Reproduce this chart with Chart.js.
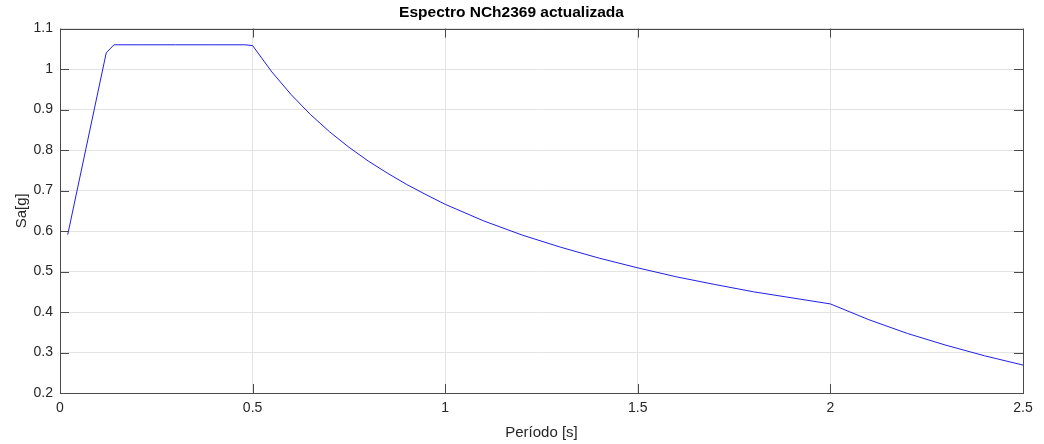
<!DOCTYPE html>
<html>
<head>
<meta charset="utf-8">
<script src="https://cdn.jsdelivr.net/npm/chart.js@4/dist/chart.umd.min.js"></script>
<style>
  html, body { margin: 0; padding: 0; background: #fff; }
  #wrap { width: 1044px; height: 444px; }
</style>
</head>
<body>
<div id="wrap"><canvas id="myChart" width="1044" height="444"></canvas></div>
<script>
// periodo T [s]
var periods = [0.02, 0.12, 0.14, 0.2, 0.3, 0.4, 0.48, 0.5, 0.55, 0.6, 0.65, 0.7, 0.75, 0.8, 0.85, 0.9, 0.95, 1.0,
               1.1, 1.2, 1.3, 1.4, 1.5, 1.6, 1.7, 1.8, 1.9, 2.0, 2.1, 2.2, 2.3, 2.4, 2.5];
// Sa [g]
var saValues = [0.591, 1.04, 1.06, 1.06, 1.06, 1.06, 1.06, 1.058, 0.993, 0.937, 0.888, 0.845, 0.807, 0.773, 0.743, 0.715, 0.690, 0.666,
                0.625, 0.590, 0.560, 0.533, 0.509, 0.487, 0.468, 0.450, 0.435, 0.420, 0.381, 0.347, 0.318, 0.292, 0.269];
var xTicks = [0, 0.5, 1, 1.5, 2, 2.5];
var yTicks = [0.2, 0.3, 0.4, 0.5, 0.6, 0.7, 0.8, 0.9, 1, 1.1];

var pts = periods.map(function(t, i) { return { x: t, y: saValues[i] }; });
var fam = '"Liberation Sans", Arial, Helvetica, sans-serif';

// caja y ticks hacia adentro, estilo matlab
var boxPlugin = {
    id: 'boxTicks',
    afterDatasetsDraw: function(chart) {
        var ctx = chart.ctx;
        var a = chart.chartArea;
        var xs = chart.scales.x, ys = chart.scales.y;
        var len = 9;
        ctx.save();
        ctx.strokeStyle = '#4a4a4a';
        ctx.lineWidth = 1;
        ctx.beginPath();
        xTicks.forEach(function(v) {
            var px = Math.round(xs.getPixelForValue(v)) + 0.5;
            ctx.moveTo(px, a.bottom); ctx.lineTo(px, a.bottom - len);
            ctx.moveTo(px, a.top); ctx.lineTo(px, a.top + len);
        });
        yTicks.forEach(function(v) {
            var py = Math.round(ys.getPixelForValue(v)) + 0.5;
            ctx.moveTo(a.left, py); ctx.lineTo(a.left + len, py);
            ctx.moveTo(a.right, py); ctx.lineTo(a.right - len, py);
        });
        ctx.stroke();
        ctx.strokeRect(Math.round(a.left) + 0.5, Math.round(a.top) + 0.5,
                       Math.round(a.right - a.left), Math.round(a.bottom - a.top));
        ctx.restore();
    }
};

function plainLabel(value) { return String(Math.round(value * 10) / 10); }

var ctx = document.getElementById('myChart').getContext('2d');
var chart = new Chart(ctx, {
    type: 'line',
    data: {
        datasets: [{
            data: pts,
            borderColor: '#1f1fe6',
            borderWidth: 1,
            pointRadius: 0,
            tension: 0,
            fill: false
        }]
    },
    options: {
        responsive: false,
        animation: false,
        layout: { padding: { left: 0, right: 21, top: 0, bottom: 0 } },
        plugins: {
            legend: { display: false },
            tooltip: { enabled: false },
            title: {
                display: true,
                text: 'Espectro NCh2369 actualizada',
                color: '#000',
                font: { family: fam, size: 15.5, weight: 'bold' },
                padding: { top: 3, bottom: 7 }
            }
        },
        scales: {
            x: {
                type: 'linear',
                min: 0, max: 2.5,
                afterBuildTicks: function(s) { s.ticks = xTicks.map(function(v) { return { value: v }; }); },
                afterFit: function(s) { s.height = 51; },
                grid: { color: '#e3e3e3', drawTicks: false },
                border: { display: false },
                ticks: { color: '#262626', font: { family: fam, size: 14 }, padding: 7, maxRotation: 0, callback: plainLabel },
                title: {
                    display: true,
                    text: 'Período [s]',
                    color: '#262626',
                    font: { family: fam, size: 15 },
                    padding: { top: 0, bottom: 2 }
                }
            },
            y: {
                min: 0.2, max: 1.1,
                afterBuildTicks: function(s) { s.ticks = yTicks.map(function(v) { return { value: v }; }); },
                afterFit: function(s) { s.width = 60; },
                grid: { color: '#e3e3e3', drawTicks: false },
                border: { display: false },
                ticks: { color: '#262626', font: { family: fam, size: 14 }, padding: 7, callback: plainLabel },
                title: {
                    display: true,
                    text: 'Sa[g]',
                    color: '#262626',
                    font: { family: fam, size: 15 },
                    padding: { top: 13, bottom: 13 }
                }
            }
        }
    },
    plugins: [boxPlugin]
});
</script>
</body>
</html>
